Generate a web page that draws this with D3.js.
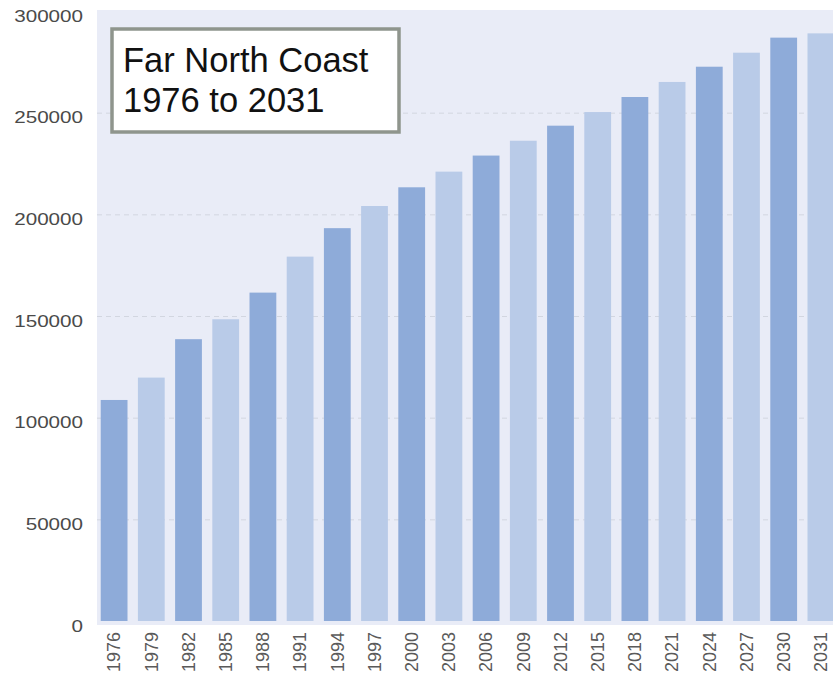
<!DOCTYPE html>
<html>
<head>
<meta charset="utf-8">
<script src="https://cdn.jsdelivr.net/npm/d3@7/dist/d3.min.js"></script>
<style>
  html, body { margin: 0; padding: 0; background: #ffffff; }
  svg { display: block; }
</style>
</head>
<body>
<svg id="chart" width="833" height="679"></svg>
<script>
const years = ["1976","1979","1982","1985","1988","1991","1994","1997","2000","2003",
               "2006","2009","2012","2015","2018","2021","2024","2027","2030","2031"];
const population = [108700,119700,138600,148400,161500,179200,193200,204100,213300,221000,
                    228900,236200,243600,250300,257700,265100,272600,279500,286900,289000];
const yTicks = [0,50000,100000,150000,200000,250000,300000];
const titleLines = ["Far North Coast","1976 to 2031"];

const svg = d3.select("#chart");
const W = 833, H = 679;
const plot = {left: 97, right: 838, top: 11, bottom: 621};

const x = d3.scaleBand().domain(years).range([plot.left, plot.right])
  .paddingInner(0.28).paddingOuter(0.1);
const y = d3.scaleLinear().domain([0, 300000]).range([plot.bottom, plot.top]);

// plot background
svg.append("rect").attr("x", plot.left).attr("y", 10)
  .attr("width", W - plot.left).attr("height", plot.bottom + 4 - 10)
  .attr("fill", "#e9ecf7");

// grid lines
svg.append("g").selectAll("line").data(yTicks.filter(d => d > 0 && d < 300000)).join("line")
  .attr("x1", plot.left).attr("x2", W)
  .attr("y1", d => y(d) + 0.5).attr("y2", d => y(d) + 0.5)
  .attr("stroke", "#d2d6e0").attr("stroke-width", 1)
  .attr("stroke-dasharray", "5,4");

// bars
svg.append("g").selectAll("rect").data(years).join("rect")
  .attr("x", d => x(d)).attr("width", x.bandwidth())
  .attr("y", (d, i) => y(population[i]))
  .attr("height", (d, i) => y(0) - y(population[i]))
  .attr("fill", (d, i) => i % 2 === 0 ? "#8eabd9" : "#b9cbe8");

// y axis labels
const yAxis = d3.axisLeft(y).tickValues(yTicks).tickSize(0).tickPadding(0).tickFormat(d3.format("d"));
const gy = svg.append("g").attr("transform", "translate(83,0)").call(yAxis);
gy.select(".domain").remove();
gy.selectAll("text")
  .attr("font-family", "'Liberation Sans', Arial, sans-serif")
  .attr("font-size", 16.5).attr("fill", "#4a4a4a")
  .attr("dy", "0.32em")
  .attr("transform", "translate(0,5) scale(1.25,1)");

// x axis labels
const xAxis = d3.axisBottom(x).tickSize(0).tickPadding(0);
const gx = svg.append("g").attr("transform", `translate(0,${plot.bottom})`).call(xAxis);
gx.select(".domain").remove();
gx.selectAll("text")
  .attr("font-family", "'Liberation Sans', Arial, sans-serif")
  .attr("font-size", 18).attr("fill", "#5a5a5a")
  .attr("text-anchor", "end")
  .attr("transform", "rotate(-90)")
  .attr("x", -11).attr("y", 0).attr("dy", "0.35em");

// title box
svg.append("rect").attr("x", 112).attr("y", 29).attr("width", 287).attr("height", 103)
  .attr("fill", "#ffffff").attr("stroke", "#8f958d").attr("stroke-width", 3.5);
svg.append("g").selectAll("text").data(titleLines).join("text")
  .attr("x", 123).attr("y", (d, i) => 72 + i * 40)
  .attr("font-family", "'Liberation Sans', Arial, sans-serif")
  .attr("font-size", 34.5).attr("fill", "#111")
  .text(d => d);
</script>
</body>
</html>
